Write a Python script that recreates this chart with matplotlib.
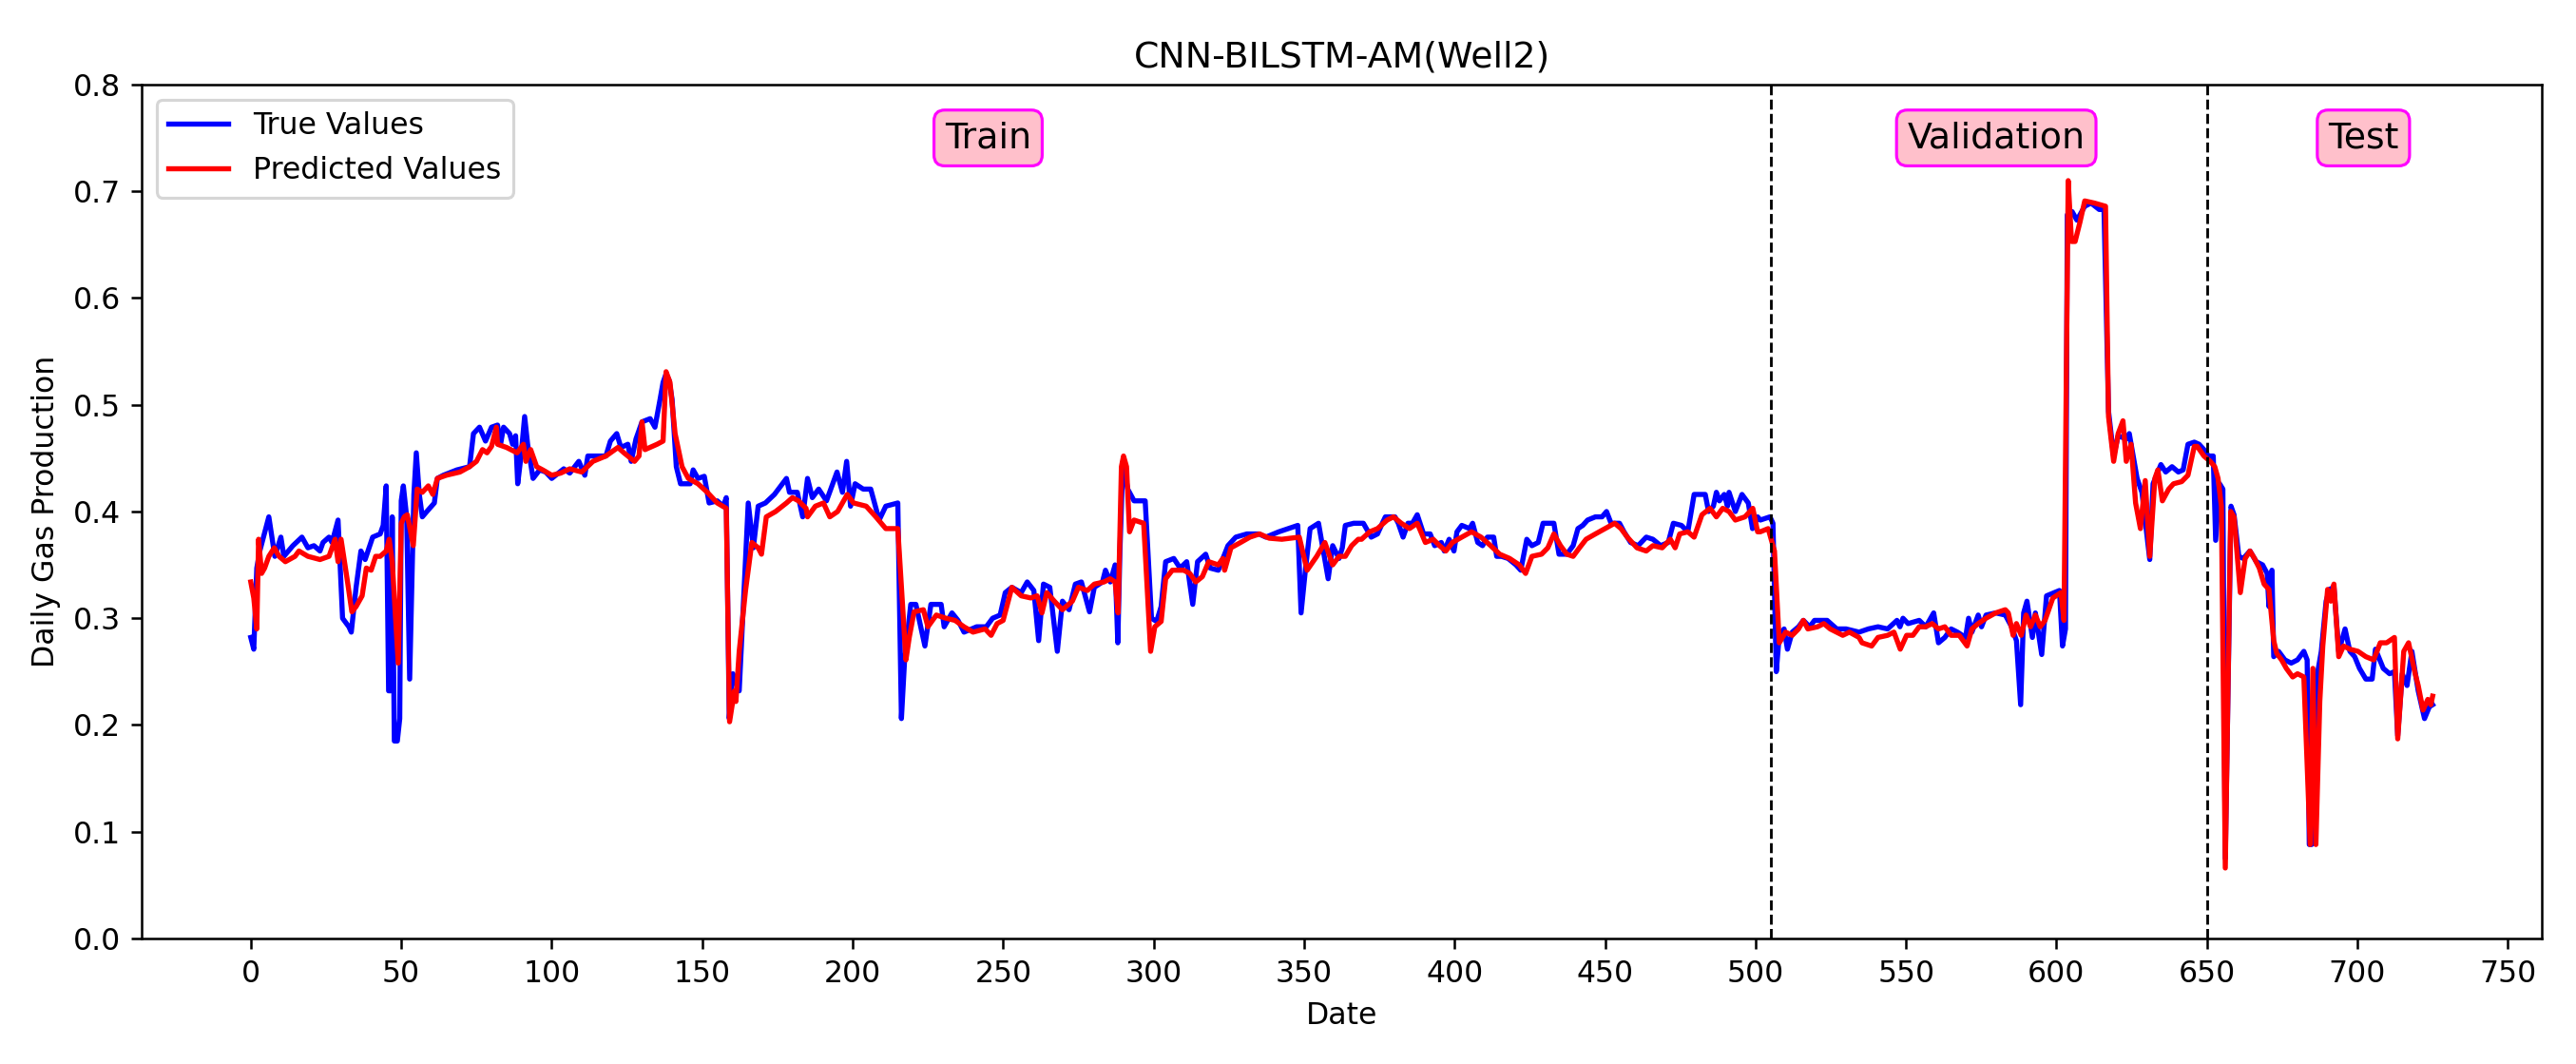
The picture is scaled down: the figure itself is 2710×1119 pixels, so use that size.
import matplotlib
matplotlib.use('Agg')
import matplotlib.pyplot as plt

# day index / value pairs
true_x = [0, 1, 2, 3, 6, 8, 10, 11, 14, 17, 19, 21, 23, 24, 26, 27, 29, 30.5, 32.6, 33.4, 35, 36.6, 38, 40.5, 43, 44, 45,
          45.8, 46.5, 47, 47.7, 48.7, 49.5, 50, 50.7, 51.8, 52.8, 54.2, 55, 56, 57, 58.5, 61, 62, 64, 68.5, 72.7, 74, 76,
          78, 80, 82, 83, 84, 86, 87, 88, 88.7, 89.8, 91, 92, 93.8, 96, 98, 100,
          104, 106, 109, 111, 112, 118, 119.5, 121.6, 123, 125.3, 126.4, 128, 130, 132.7, 134.3, 136, 137, 138, 139, 140,
          141.4, 142.8, 146, 147, 148.6, 150.7, 152.3, 155, 157, 158, 159, 160.2, 162.3, 165.3, 167, 168.6, 171, 174,
          178, 179, 181.6, 183.4, 185, 186.6, 188.7, 191.3, 194.8, 196.6, 198, 199.3, 200.8, 203.5, 206, 208.8, 211, 215,
          216.2, 217.2, 219.3, 221, 224, 226, 229.4, 230.4, 233, 235,
          237, 241.2, 244.4, 246.5, 249, 250.7, 252.9, 256, 258, 260.2, 261.8, 263.4, 265.5, 268, 269.7, 271.9, 274, 276,
          278.7, 280.3, 283, 284, 285.6, 287.2, 288.1, 288.8, 289.8, 291.4, 293.5, 297.2, 299.3, 301, 302.5, 304, 306.7,
          308.8, 311, 313, 314.6, 317.3, 318.8, 321.5, 324.7, 327.3, 331, 335, 337.3, 341.6, 347.9, 349, 350.5, 352,
          354.8, 358, 359.5, 361.6, 362.7, 363.7, 366.5, 369.7,
          370.7, 372.3, 374.4, 376, 377, 380.2, 381.3, 382.9, 384.5, 386, 387.6, 389.7, 391.9, 393.4, 395.6, 396.6, 398.2,
          399.8, 400.8, 402.4, 405, 406, 407.7, 409.3, 410.9, 413, 414, 415.6, 417.8, 420.4, 422, 424, 425.7, 427.8,
          429.4, 433, 434.7, 437.3, 439.4, 441, 442.6, 444.2, 446.8, 449, 450.5, 452, 454.8, 456.3, 458.5, 461, 463.7,
          465.9, 468.5, 471, 472.7, 475.4, 477.5, 479.6, 483.3, 484.4, 486, 487, 488, 489.6, 490.7, 491.2, 493.3, 495.5,
          497.6, 499, 500.7,
          501.6, 504.8, 505.8, 506.9, 507.9, 509.5, 510.6, 512.2, 514.3, 515.9, 518, 519.6, 523.8, 527, 530.1, 534.4,
          537.5, 540.7, 543.9, 547, 548, 549, 550.7, 554.4, 556.6, 559.2, 560.8, 562.9, 565, 567.1, 569.8, 570.8, 571.9,
          574, 575.1, 576.6, 579.8, 583, 585.1, 586.7, 588.1, 589.1, 590.2, 592, 593, 595.1, 596.7, 601, 602, 603,
          603.6, 605.2, 606.8, 609.4, 611.5, 614.2, 615.8, 617.3, 619, 620.5, 623.2, 624.2, 626.8, 628.4, 631, 632.1,
          633.7,
          634.7, 636.3, 638.4, 640.5, 642.1, 643.7, 645.8, 647.4, 649, 650.5, 652.1, 652.9, 654.2, 655.3, 656.1, 658,
          659, 660.6, 662.1, 664.3, 666.4, 668.5, 670, 670.6, 671.6, 672.2, 673.8, 675.9, 678, 680.1, 682.2, 683.3, 684,
          684.8, 686.4, 688, 689.6, 690.7, 692.2, 693.8, 695.9, 697.5, 699.1, 700.7, 702.8, 704.9, 706, 708.6, 710.7,
          712.3, 713.4, 714.9, 716.5, 718.1, 720.2, 722.3, 723.9, 725]
true_y = [0.282, 0.271, 0.347, 0.363, 0.395, 0.358, 0.376, 0.358, 0.368, 0.376, 0.366, 0.368, 0.363, 0.371, 0.376,
          0.371, 0.392, 0.300, 0.292, 0.287, 0.329, 0.363, 0.355, 0.376, 0.379, 0.387, 0.424, 0.232, 0.232, 0.395,
          0.185, 0.185, 0.206, 0.410, 0.424, 0.395, 0.243, 0.416, 0.455, 0.416, 0.395, 0.400, 0.408, 0.431, 0.434,
          0.439, 0.442, 0.473, 0.479, 0.466, 0.479, 0.481, 0.463, 0.479, 0.473, 0.463, 0.471, 0.426, 0.452, 0.489,
          0.463, 0.431, 0.439, 0.437, 0.431,
          0.440, 0.436, 0.447, 0.434, 0.452, 0.452, 0.466, 0.473, 0.460, 0.463, 0.447, 0.468, 0.484, 0.487, 0.479,
          0.505, 0.521, 0.529, 0.523, 0.505, 0.442, 0.426, 0.426, 0.439, 0.431, 0.433, 0.408, 0.410, 0.405, 0.413,
          0.206, 0.248, 0.232, 0.408, 0.366, 0.405, 0.408, 0.416, 0.431, 0.418, 0.418, 0.395, 0.431, 0.413, 0.421,
          0.410, 0.437, 0.418, 0.447, 0.405, 0.426, 0.421, 0.421, 0.392, 0.405, 0.408, 0.206, 0.258, 0.313, 0.313,
          0.274, 0.313, 0.313, 0.292, 0.305, 0.298,
          0.287, 0.292, 0.292, 0.300, 0.303, 0.324, 0.329, 0.324, 0.334, 0.326, 0.279, 0.332, 0.329, 0.269, 0.316,
          0.308, 0.332, 0.334, 0.306, 0.329, 0.334, 0.345, 0.334, 0.350, 0.277, 0.363, 0.447, 0.421, 0.410, 0.410,
          0.300, 0.297, 0.311, 0.353, 0.356, 0.347, 0.353, 0.313, 0.353, 0.360, 0.347, 0.345, 0.368, 0.376, 0.379,
          0.379, 0.376, 0.381, 0.387, 0.305, 0.347, 0.384, 0.389, 0.337, 0.368, 0.356, 0.366, 0.387, 0.389, 0.389,
          0.384, 0.376, 0.379, 0.389, 0.395, 0.395, 0.389, 0.376, 0.389, 0.389, 0.397, 0.379, 0.379, 0.368, 0.371,
          0.363, 0.374, 0.363, 0.381, 0.387, 0.384, 0.389, 0.371, 0.368, 0.376, 0.376, 0.358, 0.358, 0.356, 0.350,
          0.345, 0.374, 0.368, 0.371, 0.389, 0.389, 0.360, 0.360, 0.368, 0.384, 0.387, 0.392, 0.395, 0.395, 0.400,
          0.389, 0.389, 0.381, 0.371, 0.368, 0.376, 0.374, 0.368, 0.371, 0.389, 0.387, 0.381, 0.416, 0.416, 0.400,
          0.405, 0.418, 0.410, 0.416, 0.405, 0.418, 0.400, 0.416, 0.408, 0.384, 0.395,
          0.392, 0.395, 0.389, 0.250, 0.284, 0.290, 0.271, 0.287, 0.292, 0.298, 0.292, 0.298, 0.298, 0.290, 0.290,
          0.287, 0.290, 0.292, 0.290, 0.298, 0.292, 0.300, 0.295, 0.298, 0.292, 0.305, 0.277, 0.282, 0.290, 0.287,
          0.282, 0.300, 0.287, 0.303, 0.292, 0.303, 0.305, 0.303, 0.292, 0.279, 0.219, 0.305, 0.316, 0.282, 0.305,
          0.266, 0.321, 0.326, 0.274, 0.290, 0.678, 0.681, 0.673, 0.686, 0.689, 0.683, 0.683, 0.494, 0.452, 0.471,
          0.468, 0.473, 0.431, 0.418, 0.355, 0.426, 0.437,
          0.444, 0.437, 0.442, 0.437, 0.439, 0.463, 0.465, 0.463, 0.458, 0.452, 0.452, 0.373, 0.426, 0.421, 0.075,
          0.405, 0.397, 0.358, 0.356, 0.363, 0.353, 0.350, 0.342, 0.311, 0.345, 0.264, 0.269, 0.261, 0.258, 0.261,
          0.269, 0.261, 0.088, 0.088, 0.243, 0.269, 0.316, 0.327, 0.329, 0.269, 0.290, 0.269, 0.264, 0.253, 0.243,
          0.243, 0.271, 0.253, 0.248, 0.250, 0.190, 0.248, 0.237, 0.269, 0.232, 0.206, 0.217, 0.219]

pred_x = [0, 1, 2, 2.6, 3.6, 4.6, 6, 7.8, 9.4, 11.5, 14.7, 16, 19, 23, 26, 28, 29, 30, 32, 33.6, 35, 37, 38.4, 40, 41.5,
          43, 45, 46, 47, 49, 50, 51, 52, 54, 55.3, 57, 59, 60.5, 62, 65, 69.5, 72.7, 75, 77, 78.5, 80, 81.6, 82, 85,
          86.4, 88.5, 90.6, 91.4, 93, 95, 97, 100,
          103, 106, 110, 113.7, 118, 122, 124, 127.5, 129, 130, 131, 135, 137, 138, 139.3, 141, 143.3, 145.4, 148.6,
          151.7, 155, 158, 159.1, 160.7, 161.2, 162.3, 164.4, 166.5, 168.6, 169.7, 171.3, 174.4, 178, 180, 182, 184.5,
          185, 187.6, 190.3, 192.4, 195, 198.2, 200.3, 204.5, 207.7, 211, 215, 217.7, 218.8, 220.4, 223.5, 225, 227.8,
          231, 234,
          237, 240, 244, 246, 248, 250, 252.9, 256, 259.2, 261.3, 262.9, 264.5, 267, 269.7, 273, 275, 278, 280.3, 283.5,
          285.6, 287.2, 288.2, 289.3, 290, 291, 292, 293.5, 296.7, 299, 300.4, 302.5, 304, 306.2, 310, 312, 314, 316.2,
          318.3, 321.5, 323, 323.6, 325.7, 328.9, 332, 335.2, 338.4, 342.6, 348.4, 351, 354.2, 356.9, 359.5, 361.6,
          363.7, 365.8, 368,
          369.1, 371.8, 374.4, 377.6, 379.7, 382.3, 385, 387.6, 390.3, 392.9, 395, 397.1, 399.3, 402.4, 405.6, 408.8,
          412, 415, 418.3, 421.5, 423.6, 425.7, 428.9, 431, 433, 435.2, 437.3, 439.4, 441.5, 443.7, 446.8, 450, 453.2,
          455.3, 457.4, 460.6, 463.7, 465.9, 469, 471.7, 473.3, 474.8, 477.5, 479.6, 482.2, 484.9, 487, 489.1, 491.2,
          493.3, 496.5, 499.1, 500.7,
          501.6, 504.2, 506.3, 507.9, 510, 512.2, 514.3, 515.9, 517.4, 520.6, 522.7, 524.8, 529, 531.2, 534.4, 535.4,
          538.6, 540.7, 543.9, 546, 548.1, 550.2, 552.3, 554.4, 556.5, 558.7, 560.8, 562.9, 565, 567.7, 570.3, 571.9,
          574, 576.6, 579.8, 583, 584, 585.6, 586.7, 588.3, 589.9, 591.4, 593, 594.6, 596.2, 598.8, 601.5, 602.5,
          603.9, 605, 606.2, 607.8, 609.4, 612.6, 616.3, 617.3, 619, 620.5, 622.1, 623.2, 624.8, 626.3, 627.9, 629.5,
          631, 632.7, 633.7,
          635.2, 637.3, 638.9, 641.6, 643.7, 645.8, 646.8, 649, 651.1, 652.6, 653.7, 654.8, 656.1, 657.9, 659, 661.1,
          662.7, 664.3, 665.8, 667.4, 669, 670.6, 672.2, 673.2, 674.8, 676.4, 678.5, 680.1, 682.2, 684.3, 685.2, 686.2,
          687.5, 688.5, 690.1, 691.2, 692.2, 693.8, 695.4, 697.5, 700.2, 702.8, 705.4, 707.6, 709.7, 712.3, 713.4,
          715.4, 717, 719.2, 720.2, 721.8, 723.4, 724.4, 725]
pred_y = [0.334, 0.319, 0.290, 0.374, 0.342, 0.347, 0.358, 0.366, 0.358, 0.353, 0.358, 0.363, 0.358, 0.355, 0.358,
          0.374, 0.353, 0.374, 0.337, 0.306, 0.311, 0.321, 0.347, 0.345, 0.358, 0.358, 0.363, 0.374, 0.353, 0.258,
          0.389, 0.395, 0.397, 0.368, 0.421, 0.418, 0.424, 0.416, 0.431, 0.434, 0.437, 0.442, 0.447, 0.458, 0.455,
          0.461, 0.479, 0.463, 0.460, 0.458, 0.455, 0.463, 0.447, 0.458, 0.442, 0.439, 0.434,
          0.436, 0.440, 0.437, 0.447, 0.452, 0.460, 0.455, 0.447, 0.452, 0.484, 0.458, 0.463, 0.466, 0.531, 0.521,
          0.473, 0.442, 0.431, 0.426, 0.418, 0.408, 0.403, 0.203, 0.232, 0.222, 0.269, 0.326, 0.371, 0.366, 0.360,
          0.395, 0.400, 0.408, 0.413, 0.410, 0.403, 0.395, 0.405, 0.408, 0.395, 0.400, 0.416, 0.408, 0.405, 0.395,
          0.384, 0.384, 0.261, 0.282, 0.306, 0.308, 0.292, 0.303, 0.300, 0.298,
          0.292, 0.287, 0.290, 0.284, 0.295, 0.298, 0.329, 0.321, 0.319, 0.321, 0.305, 0.324, 0.316, 0.308, 0.316,
          0.329, 0.326, 0.332, 0.334, 0.337, 0.334, 0.305, 0.442, 0.452, 0.442, 0.381, 0.392, 0.389, 0.269, 0.292,
          0.297, 0.337, 0.345, 0.345, 0.342, 0.334, 0.339, 0.353, 0.350, 0.356, 0.345, 0.366, 0.371, 0.376, 0.379,
          0.375, 0.374, 0.376, 0.345, 0.358, 0.371, 0.350, 0.358, 0.358, 0.368, 0.374,
          0.374, 0.381, 0.384, 0.392, 0.395, 0.389, 0.384, 0.389, 0.371, 0.374, 0.368, 0.363, 0.371, 0.376, 0.381,
          0.376, 0.368, 0.360, 0.356, 0.350, 0.342, 0.358, 0.360, 0.366, 0.379, 0.368, 0.360, 0.358, 0.366, 0.374,
          0.379, 0.384, 0.389, 0.384, 0.376, 0.366, 0.363, 0.368, 0.366, 0.374, 0.366, 0.379, 0.381, 0.376, 0.397,
          0.403, 0.395, 0.403, 0.400, 0.392, 0.395, 0.403, 0.381,
          0.381, 0.384, 0.363, 0.277, 0.287, 0.284, 0.290, 0.298, 0.290, 0.292, 0.295, 0.290, 0.284, 0.287, 0.282,
          0.277, 0.274, 0.282, 0.284, 0.287, 0.271, 0.284, 0.284, 0.292, 0.292, 0.295, 0.290, 0.292, 0.284, 0.284,
          0.274, 0.290, 0.295, 0.300, 0.305, 0.308, 0.305, 0.284, 0.295, 0.284, 0.303, 0.292, 0.303, 0.292, 0.298,
          0.319, 0.324, 0.298, 0.710, 0.653, 0.653, 0.671, 0.691, 0.689, 0.686, 0.489, 0.447, 0.473, 0.485, 0.447,
          0.463, 0.408, 0.384, 0.429, 0.358, 0.431, 0.439,
          0.410, 0.421, 0.426, 0.428, 0.434, 0.461, 0.461, 0.452, 0.447, 0.442, 0.431, 0.405, 0.066, 0.400, 0.395,
          0.324, 0.356, 0.363, 0.356, 0.347, 0.332, 0.327, 0.279, 0.267, 0.261, 0.253, 0.245, 0.248, 0.245, 0.088,
          0.253, 0.088, 0.222, 0.274, 0.327, 0.316, 0.332, 0.264, 0.274, 0.271, 0.269, 0.264, 0.261, 0.277, 0.277,
          0.282, 0.187, 0.269, 0.277, 0.248, 0.237, 0.214, 0.224, 0.219, 0.227]

split_points = [505, 650]
phase_names = ['Train', 'Validation', 'Test']
phase_label_x = [245, 580, 702]

fig = plt.figure(figsize=(2710 / 227, 1119 / 227), dpi=227)
fig.subplots_adjust(left=0.055, right=0.9867, top=0.9205, bottom=0.118)
ax = fig.add_subplot(111)

ax.plot(true_x, true_y, color='blue', linewidth=1.7, label='True Values')
ax.plot(pred_x, pred_y, color='red', linewidth=1.7, label='Predicted Values')

for sp in split_points:
    ax.axvline(sp, color='black', linestyle='--', linewidth=0.9)

for name, lx in zip(phase_names, phase_label_x):
    ax.text(lx, 0.75, name, ha='center', va='center', fontsize=12,
            bbox=dict(boxstyle='round,pad=0.3', facecolor='pink', edgecolor='magenta'))

ax.set_xticks(range(0, 751, 50))
ax.set_xlim(-36.25, 761.25)
ax.set_ylim(0, 0.8)
ax.set_title('CNN-BILSTM-AM(Well2)')
ax.set_xlabel('Date')
ax.set_ylabel('Daily Gas Production')
ax.legend(loc='upper left')

fig.savefig('out.png', dpi=227)
